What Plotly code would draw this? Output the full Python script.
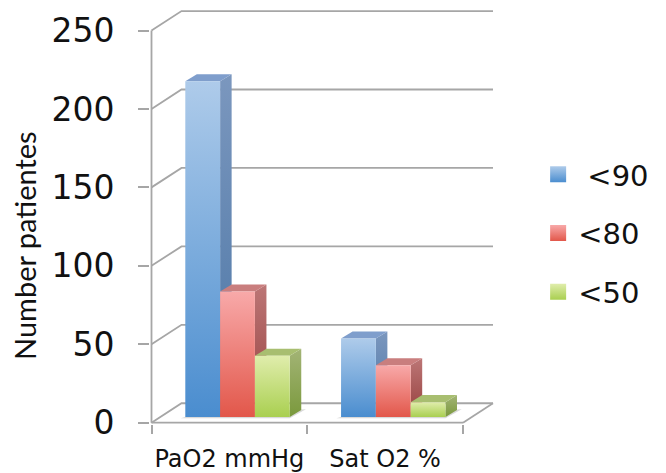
import plotly.graph_objects as go

categories = ["PaO2 mmHg", "Sat O2 %"]
series_names = ["<90", "<80", "<50"]
values_90 = [214, 50]
values_80 = [80, 33]
values_50 = [39, 9.5]
y_ticks = [0, 50, 100, 150, 200, 250]
y_title = "Number patientes"

all_values = [values_90, values_80, values_50]
front_colors = [("#AECBEA", "#4A8DCF"), ("#F8A9A9", "#E2574A"), ("#E0EDAC", "#A9CF50")]
side_colors = [("#7B97BE", "#4A75A5"), ("#BC7676", "#963F3D"), ("#A3B476", "#7A993C")]
top_colors = ["#7F9ECC", "#C97E7E", "#A8BE70"]
grid_color = "#A6A6A6"

WALL_DX, WALL_DY = 0.1926, 12.4
BAR_DX, BAR_DY = 0.074, 4.5
BAR_START, BAR_WIDTH, BAR_BASE = 0.217, 0.2235, 3.6

# pixel layout of the plot frame (the page body adds an 8 px offset)
OFFSET = 8
W, H = 666, 473
PX_PER_CAT = 155.75
PX_PER_VAL = 1.5688
LEFT, RIGHT, BOTTOM, TOP = 150.0 - OFFSET, 496.0 - OFFSET, 424.0 - OFFSET, 6.0 - OFFSET + 2
X0 = 151.5 - OFFSET
Y0 = 422.7 - OFFSET

fig = go.Figure()


def poly(xs, ys, **kw):
    fig.add_trace(go.Scatter(x=xs + xs[:1], y=ys + ys[:1], mode="lines", fill="toself",
                             line=dict(width=0), showlegend=False, hoverinfo="skip", **kw))


def grad(c):
    return dict(type="vertical", colorscale=[[0, c[1]], [1, c[0]]])


# back wall grid lines, axis lines and floor
gx, gy = [], []
for v in y_ticks:
    gx += [0, WALL_DX, 2 + WALL_DX, None]
    gy += [v, v + WALL_DY, v + WALL_DY, None]
gx += [2, 2 + WALL_DX, None]
gy += [0, WALL_DY, None]
gx += [0, 0, None, 0, 2, None]
gy += [0, y_ticks[-1], None, 0, 0, None]
fig.add_trace(go.Scatter(x=gx, y=gy, mode="lines", line=dict(color=grid_color, width=1.8),
                         showlegend=False, hoverinfo="skip"))

# bars, back to front, left to right
for c in range(len(categories)):
    n = len(all_values)
    x_end = c + BAR_START + n * BAR_WIDTH
    poly([c + BAR_START - 0.03, x_end, x_end + BAR_DX + 0.03, c + BAR_START + 0.05],
         [BAR_BASE - 0.8, BAR_BASE - 0.8, BAR_BASE + BAR_DY + 0.5, BAR_BASE + 1.5],
         fillcolor="rgba(120,120,120,0.28)")
    for s in range(n):
        v = all_values[s][c]
        x0 = c + BAR_START + s * BAR_WIDTH
        x1 = x0 + BAR_WIDTH
        top = BAR_BASE + v
        poly([x1, x1 + BAR_DX, x1 + BAR_DX, x1],
             [BAR_BASE, BAR_BASE + BAR_DY, top + BAR_DY, top], fillgradient=grad(side_colors[s]))
        poly([x0, x1, x1 + BAR_DX, x0 + BAR_DX],
             [top, top, top + BAR_DY, top + BAR_DY], fillcolor=top_colors[s])
        poly([x0, x1, x1, x0], [BAR_BASE, BAR_BASE, top, top], fillgradient=grad(front_colors[s]))

# legend entries
for s, name in enumerate(series_names):
    fig.add_trace(go.Scatter(
        x=[None], y=[None], mode="markers", name=("\u00a0" + name) if s == 0 else name,
        legendgroup=name, hoverinfo="skip",
        marker=dict(symbol="square", size=23, color=front_colors[s][0],
                    gradient=dict(type="vertical", color=front_colors[s][1]))))

fig.update_layout(
    width=W, height=H, autosize=False, margin=dict(l=0, r=0, t=0, b=0),
    paper_bgcolor="white", plot_bgcolor="rgba(0,0,0,0)",
    font=dict(family="DejaVu Sans", color="#111111"),
    showlegend=True,
    legend=dict(x=0.796, y=0.702, xanchor="left", yanchor="top", bgcolor="rgba(0,0,0,0)",
                font=dict(size=29, family="DejaVu Sans"), tracegroupgap=18, itemwidth=30),
    xaxis=dict(domain=[LEFT / W, RIGHT / W],
               range=[(LEFT - X0) / PX_PER_CAT, (RIGHT - X0) / PX_PER_CAT],
               automargin=False, showgrid=False, zeroline=False, showline=False,
               tickmode="array", tickvals=[0.5, 1.5], ticktext=categories,
               ticks="", ticklabelstandoff=18, tickfont=dict(size=24, family="DejaVu Sans"),
               minor=dict(tickmode="array", tickvals=[0, 1, 2], ticks="outside", ticklen=9,
                          tickcolor=grid_color, tickwidth=1.8, showgrid=False)),
    yaxis=dict(domain=[(H - BOTTOM) / H, (H - TOP) / H],
               range=[(Y0 - BOTTOM) / PX_PER_VAL, (Y0 - TOP) / PX_PER_VAL],
               automargin=False, showgrid=False, zeroline=False, showline=False,
               tickmode="array", tickvals=y_ticks, ticks="outside", ticklen=11,
               tickcolor=grid_color, tickwidth=1.8, ticklabelstandoff=17,
               tickfont=dict(size=33, family="DejaVu Sans")),
    annotations=[dict(text=y_title, textangle=-90, showarrow=False, xref="paper", yref="paper",
                      x=(25 - OFFSET) / W, y=(H - (246 - OFFSET)) / H, xanchor="center",
                      yanchor="middle", font=dict(size=29, family="Lato", color="#111111"))],
)

fig.write_html("out.html")
